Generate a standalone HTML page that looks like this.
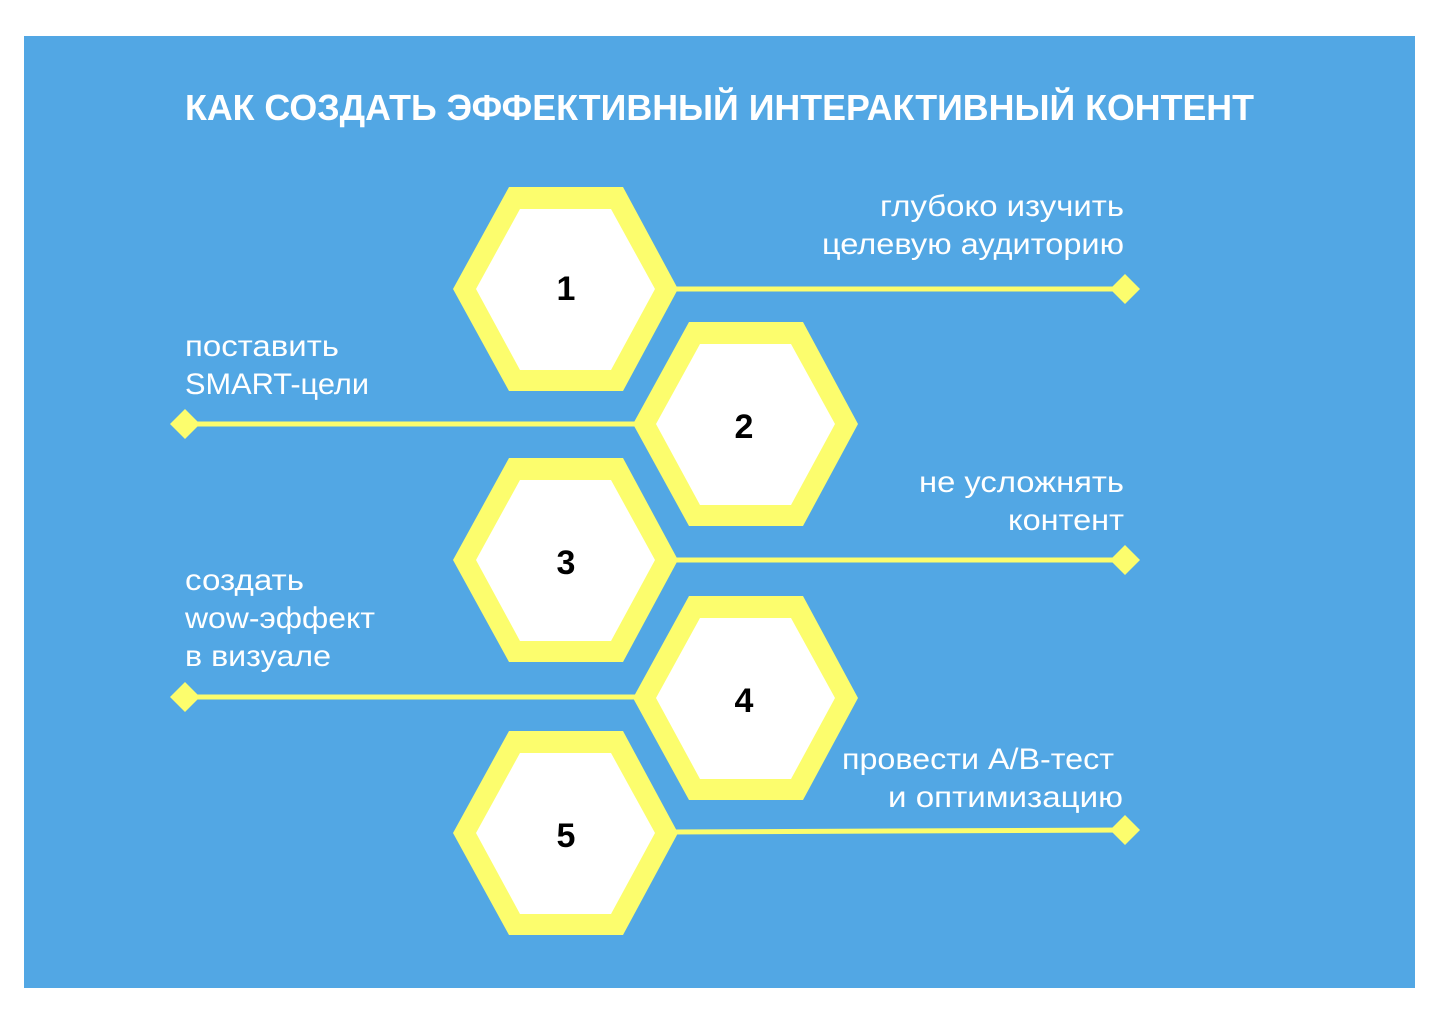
<!DOCTYPE html>
<html><head><meta charset="utf-8"><style>
html,body{margin:0;padding:0;background:#fff;}
svg{display:block;}
text{font-family:"Liberation Sans","DejaVu Sans",sans-serif;}
.l{fill:#fff;font-size:30px;}
.n{fill:#000;font-size:34px;font-weight:bold;}
</style></head><body>
<svg width="1440" height="1024" viewBox="0 0 1440 1024" xmlns="http://www.w3.org/2000/svg">
<rect x="0" y="0" width="1440" height="1024" fill="#fff"/>
<rect x="24" y="36" width="1391" height="952" fill="#52a7e4"/>
<text x="185" y="120" textLength="1069" lengthAdjust="spacingAndGlyphs" fill="#fff" font-size="36" font-weight="bold">КАК СОЗДАТЬ ЭФФЕКТИВНЫЙ ИНТЕРАКТИВНЫЙ КОНТЕНТ</text>
<defs>
<g id="hx">
<polygon points="-112,0 -56,-102 58,-102 113,0 58,102 -56,102" fill="#fcfd6d"/>
<polygon points="-89,0 -45,-80 46,-80 90,0 46,81 -45,81" fill="#fff"/>
</g>
</defs>
<g stroke="#fcfd6d" stroke-width="5">
<line x1="670" y1="289" x2="1125" y2="289"/>
<line x1="185" y1="424" x2="640" y2="424"/>
<line x1="670" y1="560" x2="1125" y2="560"/>
<line x1="185" y1="697" x2="640" y2="697"/>
<line x1="670" y1="832" x2="1125" y2="830"/>
</g>
<g fill="#fcfd6d">
<polygon points="1125,274 1140,289 1125,304 1110,289"/>
<polygon points="185,409 200,424 185,439 170,424"/>
<polygon points="1125,545 1140,560 1125,575 1110,560"/>
<polygon points="185,682 200,697 185,712 170,697"/>
<polygon points="1125,815 1140,830 1125,845 1110,830"/>
</g>
<use href="#hx" x="565" y="289"/>
<use href="#hx" x="745" y="424"/>
<use href="#hx" x="565" y="560"/>
<use href="#hx" x="745" y="698"/>
<use href="#hx" x="565" y="833"/>
<text class="n" x="566" y="300" text-anchor="middle">1</text>
<text class="n" x="744" y="438" text-anchor="middle">2</text>
<text class="n" x="566" y="574" text-anchor="middle">3</text>
<text class="n" x="744" y="712" text-anchor="middle">4</text>
<text class="n" x="566" y="847" text-anchor="middle">5</text>
<text class="l" x="880" y="216" textLength="244" lengthAdjust="spacingAndGlyphs">глубоко изучить</text>
<text class="l" x="822" y="254" textLength="302" lengthAdjust="spacingAndGlyphs">целевую аудиторию</text>
<text class="l" x="185" y="356" textLength="154" lengthAdjust="spacingAndGlyphs">поставить</text>
<text class="l" x="185" y="394" textLength="184" lengthAdjust="spacingAndGlyphs">SMART-цели</text>
<text class="l" x="919" y="492" textLength="205" lengthAdjust="spacingAndGlyphs">не усложнять</text>
<text class="l" x="1008" y="530" textLength="116" lengthAdjust="spacingAndGlyphs">контент</text>
<text class="l" x="185" y="590" textLength="119" lengthAdjust="spacingAndGlyphs">создать</text>
<text class="l" x="185" y="628" textLength="190" lengthAdjust="spacingAndGlyphs">wow-эффект</text>
<text class="l" x="185" y="666" textLength="146" lengthAdjust="spacingAndGlyphs">в визуале</text>
<text class="l" x="842" y="769" textLength="272" lengthAdjust="spacingAndGlyphs">провести A/B-тест</text>
<text class="l" x="888" y="807" textLength="235" lengthAdjust="spacingAndGlyphs">и оптимизацию</text>
</svg>
</body></html>
